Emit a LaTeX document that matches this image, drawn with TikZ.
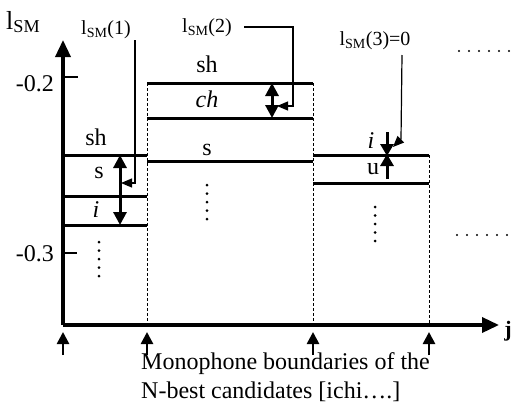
\documentclass[tikz,border=0pt]{standalone}
\usepackage{fontspec}
\setmainfont{Liberation Serif}
\usetikzlibrary{arrows.meta}
\begin{document}
\begin{tikzpicture}[x=1pt,y=-1pt,
  lbl/.style={font=\fontsize{24}{28}\selectfont, inner sep=0pt},
  clbl/.style={font=\fontsize{20}{24}\selectfont, inner sep=0pt},
  level/.style={line width=3pt},
  axisline/.style={line width=3.5pt, -{Triangle[length=17pt,width=15pt]}},
  tick/.style={line width=1.8pt},
  bnd/.style={dash pattern=on 3pt off 2pt, line width=1pt},
  dbl/.style={line width=3pt, {Triangle[length=13pt,width=13pt]}-{Triangle[length=13pt,width=13pt]}},
  sgl/.style={line width=3pt, -{Triangle[length=12pt,width=13pt]}},
  call/.style={line width=1.2pt, -{Triangle[length=11pt,width=9pt]}},
  bound/.style={line width=2.6pt, -{Triangle[length=12pt,width=12pt]}},
  dot/.style={fill=black}
]
\useasboundingbox (0,0) rectangle (518,418);

% axes
\coordinate (O) at (63,325);
\coordinate (ytop) at (63,40);
\coordinate (xend) at (499,325);
\draw[axisline] (O) -- (ytop);
\draw[axisline] (O) -- (xend);
\node[lbl, font=\fontsize{26}{30}\selectfont, anchor=west] (ylab) at (6,22) {l\textsubscript{SM}};
\node[lbl, font=\fontsize{22}{26}\selectfont\bfseries] (jlab) at (508,331) {j};

% ticks
\coordinate (t2a) at (63,77); \coordinate (t2b) at (78,77);
\coordinate (t3a) at (63,253); \coordinate (t3b) at (77,253);
\draw[tick] (t2a) -- (t2b);
\draw[tick] (t3a) -- (t3b);
\node[lbl, anchor=east] (m02) at (54,84) {-0.2};
\node[lbl, anchor=east] (m03) at (54,254) {-0.3};

% boundaries
\coordinate (b1) at (147,325);
\coordinate (b2) at (313,325);
\coordinate (b3) at (429,325);
\coordinate (b1t) at (147,83);
\coordinate (b2t) at (313,83);
\coordinate (b3t) at (429,155);
\draw[bnd] (b1t) -- (b1);
\draw[bnd] (b2t) -- (b2);
\draw[bnd] (b3t) -- (b3);

% segment 1
\coordinate (s1a) at (63,155);  \coordinate (s1b) at (147,155);
\coordinate (s1c) at (63,196);  \coordinate (s1d) at (147,196);
\coordinate (s1e) at (63,225);  \coordinate (s1f) at (147,225);
\draw[level] (s1a) -- (s1b);
\draw[level] (s1c) -- (s1d);
\draw[level] (s1e) -- (s1f);
\node[lbl] (sh1) at (96,137) {sh};
\node[lbl] (s1) at (99,173) {s};
\node[lbl] (i1) at (96,210) {\itshape i};
\foreach \y in {242,250.5,259,267.5,276} \fill[dot] (99,\y) circle (1.5pt);
\coordinate (a1t) at (120,155); \coordinate (a1b) at (120,225);
\draw[dbl] (a1b) -- (a1t);

% segment 2
\coordinate (s2a) at (147,83);  \coordinate (s2b) at (313,83);
\coordinate (s2c) at (147,118); \coordinate (s2d) at (313,118);
\coordinate (s2e) at (147,161); \coordinate (s2f) at (313,161);
\draw[level] (s2a) -- (s2b);
\draw[level] (s2c) -- (s2d);
\draw[level] (s2e) -- (s2f);
\node[lbl] (sh2) at (207,64) {sh};
\node[lbl] (ch2) at (207,99) {\itshape ch};
\node[lbl] (s2) at (207,150) {s};
\foreach \y in {185,193.5,202,210.5,219} \fill[dot] (207,\y) circle (1.5pt);
\coordinate (a2t) at (272,83); \coordinate (a2b) at (272,118);
\draw[dbl] (a2b) -- (a2t);

% segment 3
\coordinate (s3a) at (313,155); \coordinate (s3b) at (429,155);
\coordinate (s3c) at (313,183); \coordinate (s3d) at (429,183);
\draw[level] (s3a) -- (s3b);
\draw[level] (s3c) -- (s3d);
\node[lbl] (i3) at (371,141) {\itshape i};
\node[lbl] (u3) at (373,169) {u};
\foreach \y in {207,215.5,224,232.5,241} \fill[dot] (375,\y) circle (1.5pt);
\coordinate (a3d0) at (387,132); \coordinate (a3d1) at (387,156);
\coordinate (a3u0) at (387,179); \coordinate (a3u1) at (387,154);
\draw[sgl] (a3d0) -- (a3d1);
\draw[sgl] (a3u0) -- (a3u1);

% callouts
\node[clbl] (c1) at (106,30) {l\textsubscript{SM}(1)};
\coordinate (c1a) at (135,40); \coordinate (c1b) at (135,183); \coordinate (c1c) at (121,183);
\draw[call] (c1a) -- (c1b) -- (c1c);

\node[clbl] (c2) at (207,28) {l\textsubscript{SM}(2)};
\coordinate (c2a) at (244,27); \coordinate (c2b) at (293,27);
\coordinate (c2c) at (293,106); \coordinate (c2d) at (277,106);
\draw[call] (c2a) -- (c2b) -- (c2c) -- (c2d);

\node[clbl] (c3) at (375,41) {l\textsubscript{SM}(3)=0};
\coordinate (c3a) at (402,55); \coordinate (c3b) at (401,139); \coordinate (c3c) at (393,147);
\draw[call] (c3a) -- (c3b) -- (c3c);

% continuation dots
\foreach \x in {459,469,479,489,499,509} {
  \fill[dot] (\x,51) circle (1.2pt);
  \fill[dot] (\x-2,235) circle (1.2pt);
}

% boundary markers
\coordinate (m0) at (63,355); \coordinate (m1) at (147,355);
\coordinate (m2) at (313,355); \coordinate (m3) at (429,355);
\coordinate (m0t) at (63,332); \coordinate (m1t) at (147,332);
\coordinate (m2t) at (313,332); \coordinate (m3t) at (429,332);
\draw[bound] (m0) -- (m0t);
\draw[bound] (m1) -- (m1t);
\draw[bound] (m2) -- (m2t);
\draw[bound] (m3) -- (m3t);

\node[lbl, anchor=west] (cap1) at (141,364) {Monophone boundaries of the};
\node[lbl, anchor=west] (cap2) at (141,392) {N-best candidates [ichi….]};
\end{tikzpicture}
\end{document}
